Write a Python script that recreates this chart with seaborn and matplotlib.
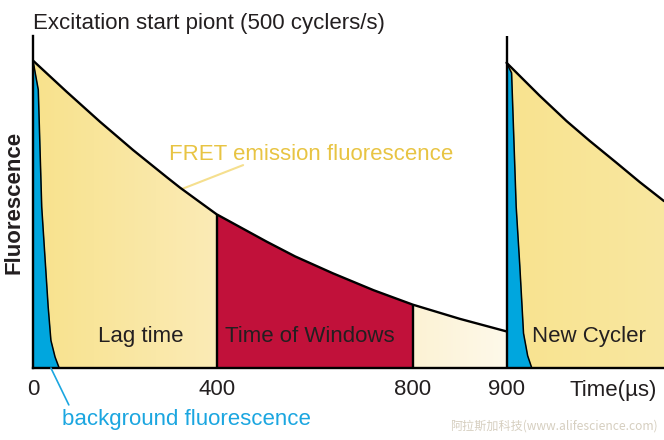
import numpy as np
import seaborn as sns
import matplotlib.pyplot as plt
from matplotlib.colors import LinearSegmentedColormap

# The original diagram spaces its time axis unevenly: time -> horizontal position knots
knot_time = [0, 400, 800, 900, 1300]
knot_pos = [33, 216.7, 413, 506.7, 690.4]

# FRET emission decay (first cycle), arbitrary units (peak = 100)
fret_time = [0, 73, 146, 218, 292, 320, 364, 400, 502, 560, 637, 720, 800, 850, 900]
fret_value = [100, 89.9, 80.1, 70.9, 62.0, 58.7, 53.9, 50.0, 41.1, 36.3, 30.8, 25.3,
              20.6, 16.0, 11.9]

# background fluorescence (first cycle)
bg_time = [0, 11.5, 19, 33, 39, 48, 57]
bg_value = [100, 90.5, 52.4, 20, 9, 3.6, 0]

# new cycle starting at 900 us
new_time = [900, 972, 1031, 1081, 1140, 1190, 1243]
new_value = [99.3, 88.6, 80.3, 73.9, 66.7, 60.5, 54.3]
new_bg_time = [900, 911, 921, 929, 937, 946, 955]
new_bg_value = [99.3, 96, 52.5, 33, 11.3, 4, 0]

tick_times = [0, 400, 800, 900]

RED = "#c1113a"
BLUE = "#00a6de"
TEXT = "#231f20"

sns.set_theme(style="white")
plt.rcParams["font.family"] = ["Liberation Sans", "DejaVu Sans"]

# piecewise linear scale, extended linearly at both ends
kt = np.array([-1e4] + knot_time + [1e4])
kp = np.array([knot_pos[0] - 1e4 * 0.45925] + knot_pos
              + [knot_pos[-1] + (1e4 - knot_time[-1]) * 0.45925])


def fwd(t):
    return np.interp(t, kt, kp)


def inv(p):
    return np.interp(p, kp, kt)


fig = plt.figure(figsize=(6.64, 4.4), dpi=100)
ax = fig.add_axes([33 / 664, 72 / 440, 631 / 664, 332 / 440])
ax.set_xscale("function", functions=(fwd, inv))
ax.set_xlim(0, 1243)
ax.set_ylim(0, 108)

x_lo, x_hi = fwd(0), fwd(1243)


def to_axes(t):
    return (fwd(t) - x_lo) / (x_hi - x_lo)


def gradient_fill(t, v, c0, c1, z):
    poly = ax.fill_between(t, v, color=c0, lw=0, zorder=z)
    cmap = LinearSegmentedColormap.from_list("g", [c0, c1])
    im = ax.imshow(np.linspace(0, 1, 256)[None, :], cmap=cmap, aspect="auto",
                   extent=[to_axes(t[0]), to_axes(t[-1]), 0, 1],
                   transform=ax.transAxes, zorder=z + 0.1)
    im.set_clip_path(poly.get_paths()[0], transform=ax.transData)


ft = np.array(fret_time)
fv = np.array(fret_value)
lag = ft <= 400
win = (ft >= 400) & (ft <= 800)
tail = ft >= 800

gradient_fill(ft[lag], fv[lag], "#f8e28c", "#fbebb6", 1)
ax.fill_between(ft[win], fv[win], color=RED, lw=0, zorder=1)
gradient_fill(ft[tail], fv[tail], "#fcf2d4", "#fef9ea", 1)
gradient_fill(np.array(new_time), np.array(new_value), "#f8e38f", "#f9e7a0", 1)

ax.fill_between(bg_time, bg_value, color=BLUE, lw=0, zorder=2)
ax.fill_between(new_bg_time, new_bg_value, color=BLUE, lw=0, zorder=2)

lw = 1.7
sns.lineplot(x=fret_time, y=fret_value, color="black", lw=lw, ax=ax, zorder=3)
sns.lineplot(x=new_time, y=new_value, color="black", lw=lw, ax=ax, zorder=3)
sns.lineplot(x=bg_time, y=bg_value, color="black", lw=1.1, ax=ax, zorder=3)
sns.lineplot(x=new_bg_time, y=new_bg_value, color="black", lw=1.1, ax=ax, zorder=3)

ax.vlines([400, 800], 0, [fv[ft == 400][0], fv[ft == 800][0]],
          color="black", lw=lw, zorder=3)
ax.axvline(900, color="black", lw=lw, zorder=3)

sns.despine(ax=ax)
for side in ["left", "bottom"]:
    ax.spines[side].set_color("black")
    ax.spines[side].set_linewidth(lw)
    ax.spines[side].set_zorder(4)

ax.set_xticks(tick_times)
ax.set_xticklabels([str(t) for t in tick_times])
ax.set_yticks([])
ax.tick_params(axis="x", length=0, pad=8, labelsize=16, labelcolor=TEXT)
ax.set_ylabel("Fluorescence", fontsize=16, fontweight="bold", color=TEXT, labelpad=6)

# region labels
ax.text(235, 10.4, "Lag time", fontsize=16, color=TEXT, ha="center", va="center", zorder=5)
ax.text(590, 10.4, "Time of Windows", fontsize=16, color=TEXT, ha="center", va="center", zorder=5)
ax.text(1079, 10.4, "New Cycler", fontsize=16, color=TEXT, ha="center", va="center", zorder=5)

# FRET label with leader
ax.plot([324, 454], [58.2, 66], color="#f5df8e", lw=1.5, zorder=2.5)
ax.text(296, 67.7, "FRET emission fluorescence", fontsize=16, color="#e8c443",
        ha="left", va="baseline")

# background label with leader
ax.plot([39, 78], [0, -12], color="#1ba6e0", lw=1.2, clip_on=False, zorder=5)
ax.text(63, -16.6, "background fluorescence", fontsize=16, color="#1ba6e0",
        ha="left", va="center", clip_on=False)

ax.text(1133, -7.2, "Time(µs)", fontsize=16, color=TEXT, ha="center", va="center",
        clip_on=False)

fig.text(33 / 664, 1 - 29.3 / 440, "Excitation start piont (500 cyclers/s)",
         fontsize=16, color=TEXT, ha="left", va="baseline")

fig.text(658 / 664, 1 - 426 / 440, "阿拉斯加科技(www.alifescience.com)", fontsize=8.7,
         color="#d6cfc0", ha="right", va="center",
         family=["Noto Sans CJK SC", "Liberation Sans"])

fig.savefig("out.png", dpi=100)
